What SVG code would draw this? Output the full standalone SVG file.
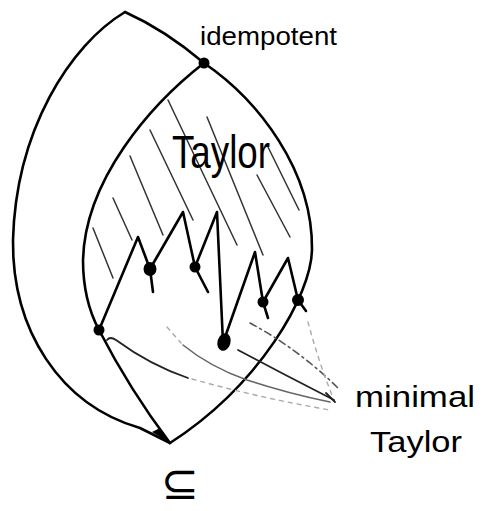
<svg xmlns="http://www.w3.org/2000/svg" width="482" height="511" viewBox="0 0 482 511">
<style>
.ln{fill:none;stroke:#000;stroke-width:2.6;stroke-linecap:round;stroke-linejoin:round}
.ht{fill:none;stroke:#333;stroke-width:1.5;stroke-linecap:round}
.pt{fill:none;stroke:#222;stroke-width:1.8;stroke-linecap:round}
.gp{fill:none;stroke:#666;stroke-width:1.6;stroke-linecap:round}
.fp{fill:none;stroke:#aaa;stroke-width:1.4;stroke-linecap:round;stroke-dasharray:4 5}
.dp{fill:none;stroke:#555;stroke-width:1.6;stroke-linecap:round;stroke-dasharray:7 4 2 4}
.dot{fill:#000}
.lbl{font-family:"Liberation Sans",Arial,sans-serif;fill:#000}
</style>
<rect width="482" height="511" fill="#fff"/>
<g id="regions">
<path class="ln" d="M125,12 C70,45 16,130 13,240 C12,330 60,405 140,428 L170,443"/>
<path class="ln" d="M125,12 Q165,30 204,63 C258,100 313,170 312,250 C311,295 260,385 170,443"/>
<path class="ln" d="M204,63 C150,105 85,180 83,260 Q83,300 99,330 Q130,390 170,443"/>
<path d="M152,432 L170,443 L160,428 Z" fill="#000"/>
</g>
<g id="hatching">
<path class="ht" d="M93,228 L113,278"/>
<path class="ht" d="M113,198 L132,240"/>
<path class="ht" d="M130,156 L163,235"/>
<path class="ht" d="M150,130 L193,220"/>
<path class="ht" d="M168,100 L237,245"/>
<path class="ht" d="M207,117 L263,255"/>
<path class="ht" d="M257,175 L290,237"/>
<path class="ht" d="M268,147 L299,210"/>
</g>
<g id="minimal-frontier">
<path class="ln" d="M99,330 L138,237 L150,269 L183,212 L195,267 L217,212 L223,343 L255,252 L263,302 L288,258 L298,300"/>
<path class="ln" d="M150,269 L153,292 M195,267 L208,292 M263,302 L268,318 M298,300 L306,311"/>
</g>
<g id="idempotent"><circle class="dot" cx="204" cy="63" r="5.5"/><text class="lbl" x="200" y="45" font-size="26" textLength="137" lengthAdjust="spacingAndGlyphs">idempotent</text></g>
<g id="taylor"><text class="lbl" x="172" y="168" font-size="46" textLength="98" lengthAdjust="spacingAndGlyphs">Taylor</text></g>
<g id="m1"><circle class="dot" cx="99" cy="330" r="5.5"/></g>
<g id="m2"><ellipse class="dot" cx="150" cy="269" rx="6.5" ry="7"/></g>
<g id="m3"><circle class="dot" cx="195" cy="267" r="5.5"/></g>
<g id="m4"><ellipse class="dot" cx="224" cy="342" rx="6.5" ry="9" transform="rotate(15 224 342)"/></g>
<g id="m5"><circle class="dot" cx="263" cy="302" r="5.5"/></g>
<g id="m6"><circle class="dot" cx="298" cy="300" r="6"/></g>
<g id="connectors">
<path class="pt" d="M107,340 Q110,336 116,340 Q150,365 188,378"/>
<path class="fp" d="M192,379 Q260,398 330,410"/>
<path class="fp" d="M167,327 L181,343"/>
<path class="gp" d="M183,345 Q210,367 247,380 Q290,394 330,402"/>
<path class="pt" d="M238,350 Q285,375 334,400"/>
<path class="dp" d="M250,323 Q300,350 340,390"/>
<path class="fp" d="M308,322 Q318,360 332,395" stroke-dasharray="2 6"/>
<path class="pt" d="M326,393 L335,402" stroke-width="3"/>
</g>
<g id="minimal-taylor"><text class="lbl" x="355" y="407" font-size="29" textLength="120" lengthAdjust="spacingAndGlyphs">minimal</text><text class="lbl" x="370" y="452" font-size="30" textLength="92" lengthAdjust="spacingAndGlyphs">Taylor</text></g>
<g id="subset"><text x="161" y="499" font-size="46" textLength="38" lengthAdjust="spacingAndGlyphs" font-family="DejaVu Sans, sans-serif">⊆</text></g>
</svg>
